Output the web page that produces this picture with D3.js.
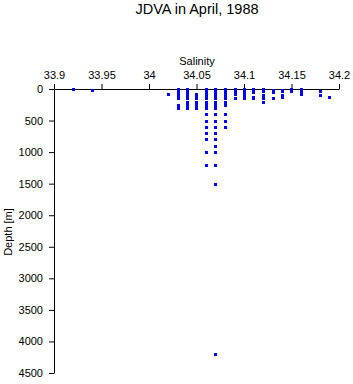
<!DOCTYPE html>
<html>
<head>
<meta charset="utf-8">
<script src="https://cdn.jsdelivr.net/npm/d3@7"></script>
<style>
  body { margin: 0; background: #fff; }
  svg text { font-family: "Liberation Sans", Arial, sans-serif; fill: #000; }
</style>
</head>
<body>
<div id="chart"></div>
<script>
// salinity bins (psu) and the depths (m) where each value was observed
const salinityLevels = [33.92, 33.94, 34.02, 34.03, 34.04, 34.05, 34.06, 34.07, 34.08, 34.09,
                        34.10, 34.11, 34.12, 34.13, 34.14, 34.15, 34.16, 34.18, 34.19];
const depthsAtLevel = [
    [0],
    [10],
    [75],
    [0, 10, 20, 30, 50, 75, 100, 125, 150, 250, 300],
    [0, 10, 20, 30, 50, 75, 100, 125, 150, 200, 250, 300],
    [75, 100, 125, 150, 200, 250, 300],
    [0, 10, 20, 30, 50, 75, 100, 125, 150, 200, 250, 300, 400, 500, 600, 700, 800, 1000, 1200],
    [0, 10, 20, 30, 50, 75, 100, 125, 150, 200, 250, 300, 400, 500, 600, 700, 800, 900, 1000, 1200, 1500, 4200],
    [0, 10, 20, 30, 50, 75, 100, 125, 150, 200, 250, 400, 500, 600],
    [0, 10, 20, 30, 75, 150],
    [0, 10, 20, 30, 50, 75, 100, 125, 150],
    [0, 10, 20, 30, 50, 125, 150],
    [0, 10, 20, 30, 100, 125, 150, 200],
    [20, 30, 50, 150],
    [10, 20, 30, 100, 125],
    [0, 10, 20, 30],
    [0, 10, 20, 30, 50, 75],
    [30, 100],
    [125]
];
const salinityTicks = [33.9, 33.95, 34, 34.05, 34.1, 34.15, 34.2];
const depthTicks = [0, 500, 1000, 1500, 2000, 2500, 3000, 3500, 4000, 4500];

const width = 353, height = 384;

const points = [];
salinityLevels.forEach((s, i) => {
    depthsAtLevel[i].forEach(d => points.push({ sal: s, depth: d }));
});

const svg = d3.select("#chart").append("svg")
    .attr("width", width)
    .attr("height", height);

const x = d3.scaleLinear().domain([33.9, 34.2]).range([54, 339]);
const y = d3.scaleLinear().domain([0, 4500]).range([89, 373]);

// title + axis labels
svg.append("text")
    .attr("x", 197).attr("y", 14)
    .attr("text-anchor", "middle")
    .style("font-size", "14.5px")
    .text("JDVA in April, 1988");

svg.append("text")
    .attr("x", 197).attr("y", 65)
    .attr("text-anchor", "middle")
    .style("font-size", "11px")
    .text("Salinity");

svg.append("text")
    .attr("transform", "translate(12,232) rotate(-90)")
    .attr("text-anchor", "middle")
    .style("font-size", "11px")
    .text("Depth [m]");

// axes
const xAxis = svg.append("g")
    .attr("transform", "translate(0,89)")
    .call(d3.axisTop(x).tickValues(salinityTicks).tickFormat(d => String(d))
        .tickSize(5).tickSizeOuter(0).tickPadding(5));

const yAxis = svg.append("g")
    .attr("transform", "translate(54,0)")
    .call(d3.axisLeft(y).tickValues(depthTicks).tickFormat(d => String(d))
        .tickSize(5).tickSizeOuter(0).tickPadding(6));

svg.selectAll(".tick text")
    .style("font-family", "'Liberation Sans', Arial, sans-serif")
    .style("font-size", "11px");
svg.selectAll(".domain, .tick line").attr("stroke", "#000");

// data markers
svg.append("g").selectAll("rect.pt")
    .data(points)
    .enter()
    .append("rect")
    .attr("class", "pt")
    .attr("x", d => Math.round(x(d.sal)) - 1)
    .attr("y", d => Math.round(y(d.depth)) - 1)
    .attr("width", 3)
    .attr("height", 3)
    .attr("fill", "#0000ff");
</script>
</body>
</html>
